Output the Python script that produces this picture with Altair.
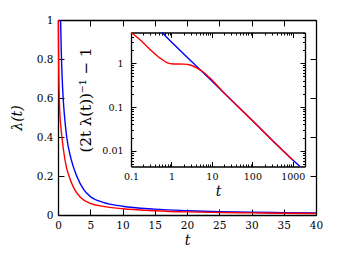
import altair as alt
import pandas as pd

# ---------------- data ----------------
main_t_red = [0.05, 0.08, 0.12, 0.2, 0.3, 0.45, 0.67, 1.0, 1.3, 1.7, 2.5, 3.5, 5, 7, 10, 15, 20, 25, 30, 35, 40]
main_lam_red = [1.0, 0.88, 0.74, 0.6, 0.51, 0.45, 0.38, 0.3, 0.245, 0.2, 0.135, 0.09, 0.06, 0.044, 0.032, 0.022, 0.016, 0.013, 0.011, 0.009, 0.008]

main_t_blue = [0.4, 0.5, 0.65, 0.8, 1.0, 1.35, 2.0, 2.9, 4.0, 5, 7, 10, 15, 20, 25, 30, 35, 40]
main_lam_blue = [1.0, 0.85, 0.7, 0.6, 0.51, 0.4, 0.29, 0.2, 0.13, 0.095, 0.065, 0.045, 0.03, 0.022, 0.017, 0.014, 0.012, 0.01]

inset_t_red = [0.1, 0.167, 0.3, 0.525, 0.77, 1.12, 2.0, 2.9, 4.3, 6.2, 9.1, 20, 50, 100, 300, 1000]
inset_f_red = [5.0, 3.43, 2.02, 1.30, 1.03, 0.96, 0.95, 0.91, 0.77, 0.62, 0.45, 0.21, 0.091, 0.049, 0.018, 0.0062]

inset_t_blue = [0.58, 1, 3, 10, 30, 100, 300, 1000, 1500]
inset_f_blue = [5.0, 3.05, 1.14, 0.39, 0.145, 0.049, 0.018, 0.0062, 0.0044]

main_x_ticks = [0, 5, 10, 15, 20, 25, 30, 35, 40]
main_y_ticks = [0, 0.2, 0.4, 0.6, 0.8, 1]
inset_x_ticks = [0.1, 1, 10, 100, 1000]
inset_y_ticks = [0.01, 0.1, 1]
inset_x_minor = [0.2, 0.3, 0.4, 0.5, 0.6, 0.7, 0.8, 0.9,
                 2, 3, 4, 5, 6, 7, 8, 9,
                 20, 30, 40, 50, 60, 70, 80, 90,
                 200, 300, 400, 500, 600, 700, 800, 900, 2000]
inset_y_minor = [0.005, 0.006, 0.007, 0.008, 0.009,
                 0.02, 0.03, 0.04, 0.05, 0.06, 0.07, 0.08, 0.09,
                 0.2, 0.3, 0.4, 0.5, 0.6, 0.7, 0.8, 0.9, 2, 3, 4, 5]

# ---------------- layout ----------------
W, H = 258, 195
IX0, IX1 = 73, 247        # inset left / right (plot px)
IY0, IY1 = 146.5, 12.5    # inset bottom / top (plot px)
FONT = "DejaVu Serif"
RED = "#ff0000"
BLUE = "#0000ff"

df_mr = pd.DataFrame({"t": main_t_red, "v": main_lam_red})
df_mb = pd.DataFrame({"t": main_t_blue, "v": main_lam_blue})
df_ir = pd.DataFrame({"t": inset_t_red, "v": inset_f_red})
df_ib = pd.DataFrame({"t": inset_t_blue, "v": inset_f_blue})

main_xs = alt.Scale(domain=[0, 40], nice=False, zero=False)
main_ys = alt.Scale(domain=[0, 1], nice=False, zero=False)
ins_xs = alt.Scale(type="log", domain=[0.1, 2000], range=[IX0, IX1], nice=False)
ins_ys = alt.Scale(type="log", domain=[0.0044, 5], range=[IY0, IY1], nice=False)


def axis(orient, values, offset=0, labels=False, ticks=True, domain=False,
         tick_size=6, title=None, label_size=10.5, label_pad=5, title_size=14,
         title_pad=5, title_style="italic"):
    return alt.Axis(
        orient=orient, values=values, offset=offset, labels=labels,
        ticks=ticks, domain=domain, grid=False, tickSize=tick_size,
        tickColor="black", tickWidth=1, domainColor="black", domainWidth=1.3,
        title=title, format="~g", labelFont=FONT, labelFontSize=label_size,
        labelColor="black", labelPadding=label_pad, labelFlush=False,
        labelOverlap=False, titleFont=FONT, titleFontSize=title_size,
        titleFontStyle=title_style, titleFontWeight="normal", titleColor="black",
        titlePadding=title_pad,
    )


def line(df, xs, ys, xa, ya, color=RED, opacity=1.0):
    return alt.Chart(df).mark_line(
        color=color, strokeWidth=1.4, opacity=opacity, interpolate="monotone"
    ).encode(
        x=alt.X("t:Q", scale=xs, axis=xa),
        y=alt.Y("v:Q", scale=ys, axis=ya),
    )


layers = [
    # main plot: labelled axes (blue curve)
    line(df_mb, main_xs, main_ys,
         axis("bottom", main_x_ticks, labels=True, ticks=False, domain=True,
              title="t", label_pad=5, title_pad=3),
         axis("left", main_y_ticks, labels=True, ticks=False, domain=True,
              title="λ(t)", label_pad=5, title_pad=12),
         BLUE),
    # main plot: inward ticks bottom / left (red curve, on top)
    line(df_mr, main_xs, main_ys,
         axis("top", main_x_ticks, offset=-H),
         axis("right", main_y_ticks, offset=-W),
         RED),
    # main plot: inward ticks + frame top / right
    line(df_mr, main_xs, main_ys,
         axis("bottom", main_x_ticks, offset=-H, domain=True),
         axis("left", main_y_ticks, offset=-W, domain=True),
         RED, 0.0),
    # inset: labelled axes (blue curve)
    line(df_ib, ins_xs, ins_ys,
         axis("bottom", inset_x_ticks, offset=IY0 - H, labels=True, ticks=False,
              domain=True, title="t", label_size=9.5, label_pad=5, title_pad=3),
         axis("left", inset_y_ticks, offset=-IX0, labels=True, ticks=False,
              domain=True, title="(2t λ(t))⁻¹ − 1", label_size=9.5,
              label_pad=8, title_pad=8, title_size=15, title_style="normal"),
         BLUE),
    # inset: inward major ticks bottom / left (red curve, on top)
    line(df_ir, ins_xs, ins_ys,
         axis("top", inset_x_ticks, offset=-IY0, tick_size=5),
         axis("right", inset_y_ticks, offset=IX0 - W, tick_size=5),
         RED),
    # inset: inward major ticks + frame top / right
    line(df_ir, ins_xs, ins_ys,
         axis("bottom", inset_x_ticks, offset=IY1 - H, domain=True, tick_size=5),
         axis("left", inset_y_ticks, offset=-IX1, domain=True, tick_size=5),
         RED, 0.0),
    # inset: minor ticks bottom / left
    line(df_ir, ins_xs, ins_ys,
         axis("top", inset_x_minor, offset=-IY0, tick_size=2.5),
         axis("right", inset_y_minor, offset=IX0 - W, tick_size=2.5),
         RED, 0.0),
    # inset: minor ticks top / right
    line(df_ir, ins_xs, ins_ys,
         axis("bottom", inset_x_minor, offset=IY1 - H, tick_size=2.5),
         axis("left", inset_y_minor, offset=-IX1, tick_size=2.5),
         RED, 0.0),
]

chart = alt.layer(*layers).resolve_scale(
    x="independent", y="independent"
).resolve_axis(
    x="independent", y="independent"
).properties(
    width=W, height=H,
    autosize=alt.AutoSizeParams(type="none"),
    padding={"left": 50, "top": 12, "right": 15, "bottom": 40},
    background="white",
).configure_view(stroke=None).configure(font=FONT)

chart.save("out.html", embed_options={"renderer": "svg", "actions": False})
